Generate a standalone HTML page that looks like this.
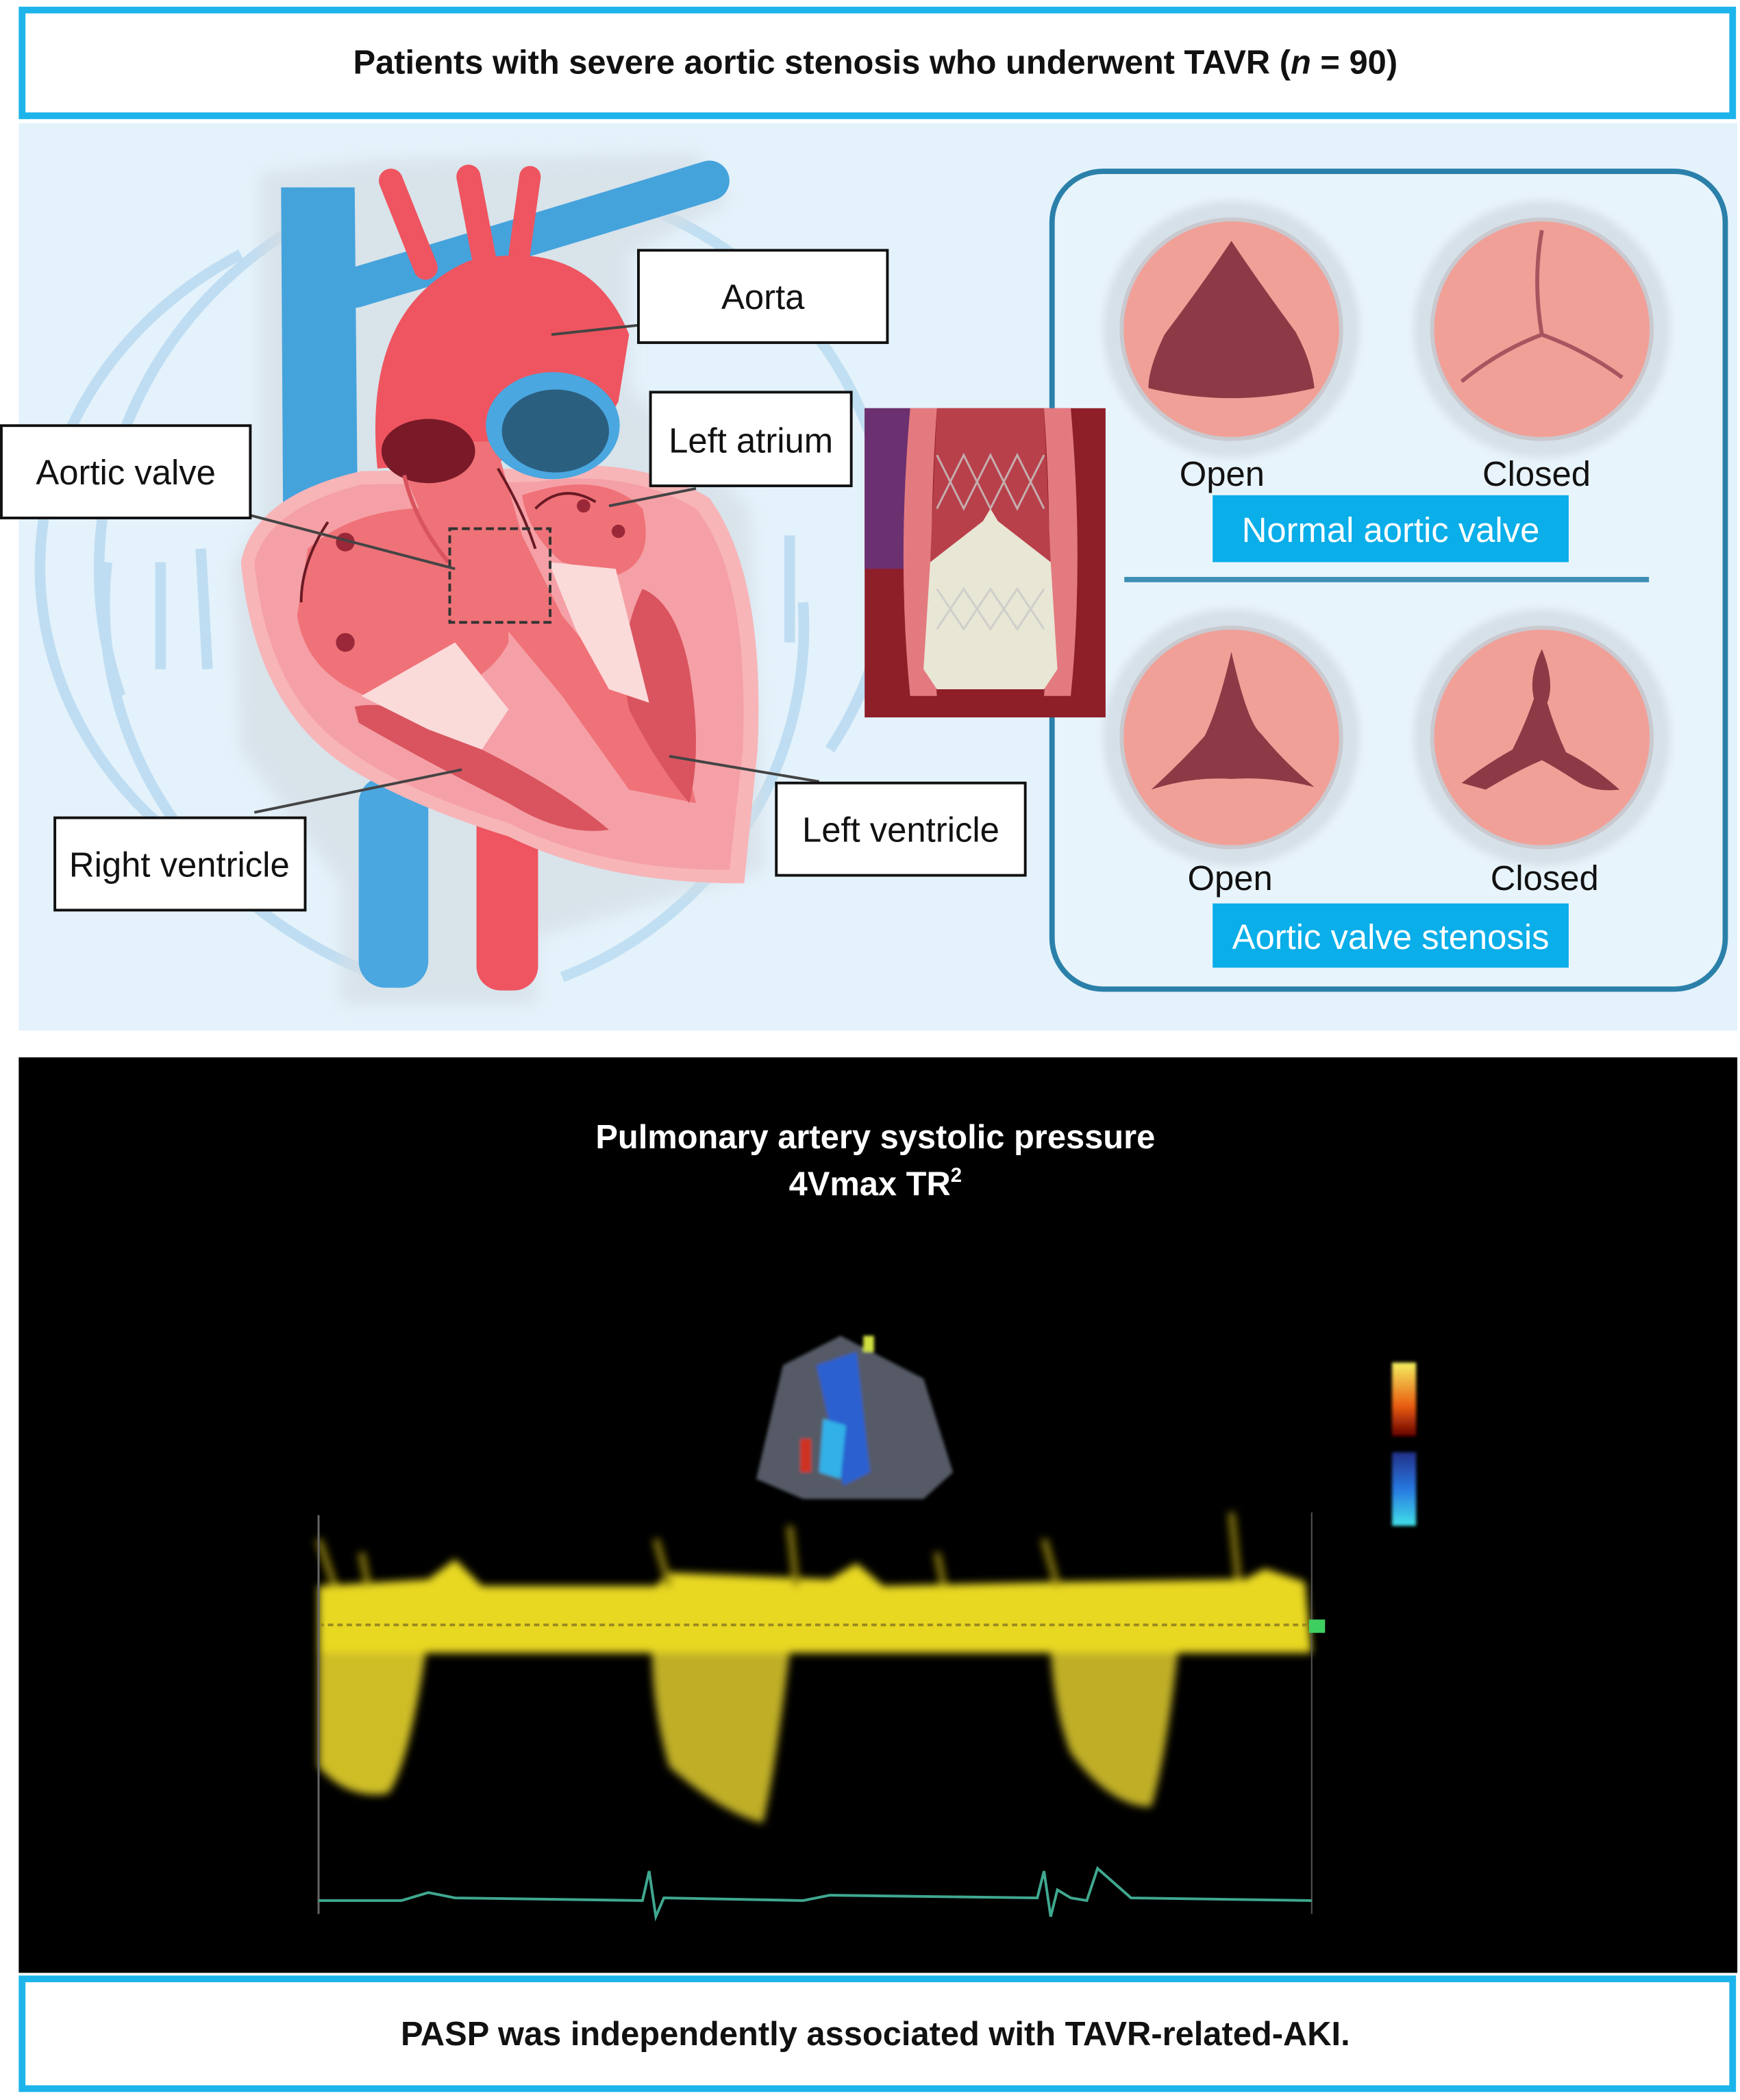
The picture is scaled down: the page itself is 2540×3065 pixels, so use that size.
<!DOCTYPE html>
<html><head><meta charset="utf-8"><style>
html,body{margin:0;padding:0;background:#fff;}
svg{display:block;}
text{font-family:"Liberation Sans",sans-serif;}
</style></head><body>
<svg width="2540" height="3065" viewBox="0 0 1300 1569" preserveAspectRatio="none" xmlns="http://www.w3.org/2000/svg">
<defs>
<filter id="bl" x="-20%" y="-20%" width="140%" height="140%"><feGaussianBlur stdDeviation="3"/></filter>
<filter id="bl2" x="-20%" y="-20%" width="140%" height="140%"><feGaussianBlur stdDeviation="6"/></filter>
<filter id="bl1"><feGaussianBlur stdDeviation="1.2"/></filter>
<linearGradient id="cb1" x1="0" y1="0" x2="0" y2="1"><stop offset="0" stop-color="#f5f060"/><stop offset=".6" stop-color="#e85a10"/><stop offset="1" stop-color="#600"/></linearGradient>
<linearGradient id="cb2" x1="0" y1="0" x2="0" y2="1"><stop offset="0" stop-color="#223088"/><stop offset=".5" stop-color="#2878e0"/><stop offset="1" stop-color="#40e0e8"/></linearGradient>
</defs>
<rect width="1300" height="1569" fill="#fff"/>
<rect x="16.5" y="7.5" width="1278" height="79" fill="#fff" stroke="#1cb4ea" stroke-width="5"/>
<text x="654" y="55" font-size="25" font-weight="bold" text-anchor="middle" fill="#111">Patients with severe aortic stenosis who underwent TAVR (<tspan font-style="italic">n</tspan> = 90)</text>
<rect x="14" y="92" width="1284" height="678" fill="#e4f2fb"/>
<g fill="none" stroke="#b7d9f0" stroke-width="8" opacity=".8">
<path d="M150,640 A300,270 0 0 1 180,190"/>
<path d="M90,520 A310,300 0 0 1 260,150"/>
<path d="M300,735 A330,300 0 0 1 80,420"/>
<path d="M470,150 A300,280 0 0 1 620,560"/>
<path d="M600,450 A280,280 0 0 1 420,730"/>
<path d="M120,420 L120,500"/><path d="M150,410 L155,500"/>
<path d="M590,400 L590,480"/>
</g>
<path d="M195,130 L280,120 L520,115 L545,150 L470,190 L470,290 L560,380 L570,650 L400,700 L400,750 L255,750 L255,660 L180,560 L175,420 L195,390 Z" fill="#d4dde4" opacity=".7" filter="url(#bl2)"/>
<path d="M210,140 L265,140 L268,470 L212,470 Z" fill="#45a3dc"/>
<path d="M265,215 Q400,175 530,135" stroke="#45a3dc" stroke-width="30" fill="none" stroke-linecap="round"/>
<rect x="268" y="580" width="52" height="158" rx="20" fill="#4aa7e0"/>
<rect x="356" y="600" width="46" height="140" rx="18" fill="#ee5560"/>
<path d="M292,135 L318,200" stroke="#ee5560" stroke-width="18" stroke-linecap="round"/>
<path d="M350,132 L362,195" stroke="#ee5560" stroke-width="18" stroke-linecap="round"/>
<path d="M396,132 L388,190" stroke="#ee5560" stroke-width="16" stroke-linecap="round"/>
<path d="M282,350 Q270,230 350,195 Q440,175 470,250 L462,300 L440,340 Z" fill="#ee5560"/>
<path d="M180,420 Q190,370 270,352 L400,350 Q475,340 530,372 Q572,430 566,560 L556,660 Q450,660 380,625 Q300,600 255,570 Q190,525 180,420 Z" fill="#f7b5b8"/>
<path d="M190,420 Q200,380 270,362 L400,360 Q470,350 520,380 Q560,430 555,560 L545,650 Q450,650 380,615 Q300,590 260,560 Q200,520 190,420 Z" fill="#f5a0a6"/>
<path d="M230,410 Q270,375 340,380 Q380,420 380,480 Q360,520 290,525 Q230,510 222,460 Z" fill="#ef7278"/>
<path d="M390,370 Q450,350 480,380 Q490,420 460,430 L420,420 Q395,400 390,370 Z" fill="#ef7278"/>
<path d="M292,330 L370,330 L390,400 L420,460 L470,520 L510,560 L520,600 L470,590 L420,520 L370,460 L330,420 Z" fill="#ef7278"/>
<path d="M265,528 Q300,520 360,560 Q420,590 455,620 Q420,625 380,600 Q320,570 268,540 Z" fill="#d9545e"/>
<path d="M480,440 Q505,450 515,500 Q525,560 515,600 Q490,570 470,530 Q460,480 480,440 Z" fill="#d9545e"/>
<path d="M270,520 L340,480 L380,530 L360,560 L320,545 Z" fill="#fbdada"/>
<path d="M410,420 L460,425 L485,525 L455,515 L430,470 Z" fill="#fbdada"/>
<ellipse cx="413" cy="318" rx="50" ry="40" fill="#4aa7e0"/>
<ellipse cx="415" cy="322" rx="40" ry="31" fill="#2b5f80"/>
<ellipse cx="320" cy="337" rx="35" ry="24" fill="#7a1a28"/>
<path d="M302,355 Q310,390 335,420" stroke="#d9545e" stroke-width="3" fill="none"/>
<circle cx="258" cy="405" r="7" fill="#9a2838"/><circle cx="258" cy="480" r="7" fill="#9a2838"/>
<circle cx="436" cy="378" r="5" fill="#9a2838"/><circle cx="462" cy="397" r="5" fill="#9a2838"/>
<path d="M372,350 Q390,380 400,410" stroke="#6a1a24" stroke-width="2" fill="none"/>
<path d="M400,380 Q420,360 445,375" stroke="#6a1a24" stroke-width="2" fill="none"/>
<path d="M245,390 Q225,420 225,450" stroke="#6a1a24" stroke-width="2" fill="none"/>
<rect x="336" y="395" width="75" height="70" fill="none" stroke="#333" stroke-width="2" stroke-dasharray="6,3"/>
<g stroke="#444" stroke-width="2" fill="none">
<path d="M187,385 L340,425"/><path d="M477,243 L412,250"/><path d="M520,365 L455,378"/>
<path d="M190,607 L345,575"/><path d="M612,584 L500,565"/>
</g>
<g fill="#fff" stroke="#111" stroke-width="2">
<rect x="477" y="187" width="186" height="69"/>
<rect x="486" y="293" width="150" height="70"/>
<rect x="1" y="318" width="186" height="69"/>
<rect x="41" y="611" width="187" height="69"/>
<rect x="580" y="585" width="186" height="69"/>
</g>
<g font-size="26" fill="#111" text-anchor="middle">
<text x="570" y="231">Aorta</text>
<text x="561" y="338">Left atrium</text>
<text x="94" y="362">Aortic valve</text>
<text x="134" y="655">Right ventricle</text>
<text x="673" y="629">Left ventricle</text>
</g>
<rect x="786" y="128" width="503" height="611" rx="38" fill="#e8f4fb" stroke="#2b80aa" stroke-width="4"/>
<line x1="840" y1="433" x2="1232" y2="433" stroke="#3d8fb5" stroke-width="4"/>
<g>
<circle cx="920" cy="246" r="96" fill="#d6e0e8" filter="url(#bl)"/>
<circle cx="920" cy="246" r="82" fill="#f1a098" stroke="#c9c9cf" stroke-width="3"/>
<path d="M920,180 Q900,210 870,250 Q858,275 858,290 Q920,305 982,290 Q980,270 968,248 Q940,210 920,180 Z" fill="#8e3a46"/>
<circle cx="1152" cy="246" r="96" fill="#d6e0e8" filter="url(#bl)"/>
<circle cx="1152" cy="246" r="82" fill="#f1a098" stroke="#c9c9cf" stroke-width="3"/>
<path d="M1152,172 Q1145,210 1152,250 M1152,250 Q1120,262 1092,285 M1152,250 Q1185,262 1212,282" stroke="#a85560" stroke-width="3" fill="none"/>
<circle cx="920" cy="551" r="96" fill="#d6e0e8" filter="url(#bl)"/>
<circle cx="920" cy="551" r="82" fill="#f1a098" stroke="#c9c9cf" stroke-width="3"/>
<path d="M920,487 Q932,540 942,548 Q960,570 982,588 Q950,580 920,582 Q890,580 860,590 Q882,570 900,550 Q910,530 920,487 Z" fill="#8e3a46"/>
<circle cx="1152" cy="551" r="96" fill="#d6e0e8" filter="url(#bl)"/>
<circle cx="1152" cy="551" r="82" fill="#f1a098" stroke="#c9c9cf" stroke-width="3"/>
<path d="M1152,485 Q1162,510 1156,525 Q1162,545 1170,562 Q1190,572 1210,590 Q1192,592 1180,585 Q1160,572 1152,568 Q1135,575 1110,590 L1092,585 Q1112,570 1130,560 Q1140,540 1146,522 Q1142,505 1152,485 Z" fill="#8e3a46"/>
</g>
<g font-size="26" fill="#111" text-anchor="middle">
<text x="913" y="363">Open</text><text x="1148" y="363">Closed</text>
<text x="919" y="665">Open</text><text x="1154" y="665">Closed</text>
</g>
<rect x="906" y="370" width="266" height="50" fill="#0aaee9"/>
<rect x="906" y="675" width="266" height="48" fill="#0aaee9"/>
<g font-size="26" fill="#fff" text-anchor="middle">
<text x="1039" y="405">Normal aortic valve</text>
<text x="1039" y="709">Aortic valve stenosis</text>
</g>
<rect x="646" y="305" width="180" height="231" fill="#8e1e28"/>
<rect x="646" y="305" width="35" height="120" fill="#6a3070"/>
<path d="M680,305 Q670,420 680,520 L700,520 Q692,420 700,305 Z" fill="#e37a80"/>
<path d="M800,305 Q810,420 800,520 L780,520 Q788,420 780,305 Z" fill="#e37a80"/>
<path d="M700,305 L780,305 L785,420 L740,395 L695,420 Z" fill="#b8404a"/>
<path d="M695,420 L740,385 L785,420 L790,500 L780,515 L700,515 L690,500 Z" fill="#e8e6d4"/>
<path d="M740,380 L752,400 L740,430 L728,400 Z" fill="#e8e6d4"/>
<g stroke="#c8c8c8" stroke-width="1.5" fill="none" opacity=".8">
<path d="M700,340 L720,380 L740,340 L760,380 L780,340 M700,380 L720,340 L740,380 L760,340 L780,380"/>
<path d="M700,440 L720,470 L740,440 L760,470 L780,440 M700,470 L720,440 L740,470 L760,440 L780,470"/>
</g>
<rect x="14" y="790" width="1284" height="684" fill="#000"/>
<g font-size="25" font-weight="bold" fill="#fff" text-anchor="middle">
<text x="654" y="858">Pulmonary artery systolic pressure</text>
<text x="654" y="893">4Vmax TR<tspan font-size="15" dy="-10">2</tspan></text>
</g>
<g filter="url(#bl1)">
<path d="M628,998 L585,1020 L565,1105 L600,1120 L690,1120 L712,1100 L690,1030 Z" fill="#555a66"/>
<path d="M610,1020 L640,1010 L650,1100 L630,1110 Z" fill="#2a60d0"/>
<path d="M615,1060 L632,1065 L628,1105 L612,1100 Z" fill="#30b0e8"/>
<rect x="598" y="1075" width="8" height="25" fill="#d03020"/>
<rect x="645" y="998" width="8" height="12" fill="#d0e040"/>
<rect x="1040" y="1018" width="18" height="55" fill="url(#cb1)"/>
<rect x="1040" y="1085" width="18" height="55" fill="url(#cb2)"/>
</g>
<g filter="url(#bl)">
<path d="M238,1185 L320,1180 L340,1165 L360,1185 L490,1185 L500,1175 L620,1180 L640,1168 L660,1185 L790,1182 L930,1180 L945,1172 L975,1182 L980,1235 L490,1235 L238,1235 Z" fill="#e8d820"/>
<path d="M238,1235 L318,1235 Q305,1320 290,1340 Q260,1345 238,1320 Z" fill="#cfbd25"/>
<path d="M487,1235 L590,1235 Q578,1330 570,1362 Q540,1355 500,1320 Q488,1280 487,1235 Z" fill="#bfae25"/>
<path d="M785,1235 L880,1235 Q870,1320 860,1350 Q830,1350 800,1310 Q788,1280 785,1235 Z" fill="#bfae25"/>
<path d="M238,1150 L250,1185 M490,1150 L500,1185 M590,1140 L595,1185 M780,1150 L790,1185 M920,1130 L925,1180 M270,1160 L275,1185 M700,1160 L705,1185" stroke="#8a7a10" stroke-width="5"/>
</g>
<line x1="238" y1="1214" x2="980" y2="1214" stroke="#9a8a20" stroke-width="2" stroke-dasharray="4,3"/>
<line x1="238" y1="1132" x2="238" y2="1430" stroke="#666" stroke-width="1.5"/>
<line x1="980" y1="1130" x2="980" y2="1430" stroke="#555" stroke-width="1"/>
<path d="M238,1420 L300,1420 L320,1414 L340,1418 L480,1420 L485,1398 L490,1432 L496,1418 L600,1420 L620,1416 L775,1418 L780,1398 L785,1432 L790,1412 L800,1418 L812,1420 L820,1396 L845,1418 L980,1420" fill="none" stroke="#3fa890" stroke-width="2"/>
<rect x="978" y="1210" width="12" height="10" fill="#3fcf60"/>
<rect x="16.5" y="1478.5" width="1278" height="82" fill="#fff" stroke="#1cb4ea" stroke-width="5"/>
<text x="654" y="1528" font-size="25" font-weight="bold" text-anchor="middle" fill="#111">PASP was independently associated with TAVR-related-AKI.</text>
</svg>
</body></html>
